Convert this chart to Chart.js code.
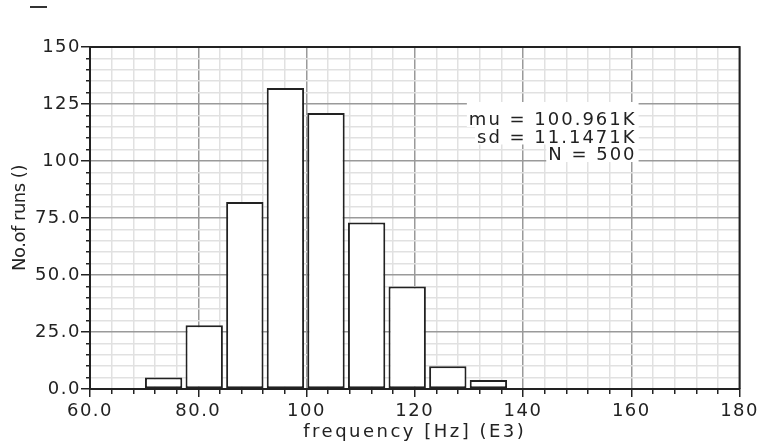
<!DOCTYPE html>
<html lang="en">
<head>
<meta charset="UTF-8">
<title>Frequency histogram</title>
<script src="https://cdn.jsdelivr.net/npm/chart.js"></script>
<style>
  html, body { margin: 0; padding: 0; background: #fff; }
</style>
</head>
<body>
<canvas id="myChart" width="763" height="445"></canvas>

<script>
// bin centres [Hz] (E3) and counts
const binCenters = [73.6, 81.1, 88.6, 96.1, 103.6, 111.1, 118.6, 126.1, 133.6];
const runCounts = [5, 28, 82, 132, 121, 73, 45, 10, 4];

// labelled (major) ticks; the minor ones in between get no text
const xTickValues = [60, 80, 100, 120, 140, 160, 180];
const xTickLabels = ['60.0', '80.0', '100', '120', '140', '160', '180'];
const yTickValues = [0, 25, 50, 75, 100, 125, 150];
const yTickLabels = ['0.0', '25.0', '50.0', '75.0', '100', '125', '150'];

const statLines = ['mu = 100.961K', 'sd = 11.1471K', 'N = 500'];

const INK = '#222';
const MAJOR_GRID = '#9a9a9a';
const MINOR_GRID = '#e1e1e1';
const FONT = '"DejaVu Sans", Verdana, sans-serif';

Chart.defaults.font.family = FONT;
Chart.defaults.font.size = 18;
Chart.defaults.color = INK;

const isMajor = (c, list) => c.tick && list.indexOf(c.tick.value) >= 0;

// the original font is widely spaced; axis titles get their own spacing
function patchTitle(scale, spacing) {
    if (!scale || scale._spacingPatched) return;
    const orig = scale.drawTitle;
    scale.drawTitle = function () {
        const prev = this.ctx.letterSpacing;
        this.ctx.letterSpacing = spacing;
        orig.call(this);
        this.ctx.letterSpacing = prev;
    };
    scale._spacingPatched = true;
}

const textSpacing = {
    id: 'textSpacing',
    beforeLayout(chart) { chart.ctx.letterSpacing = '1.5px'; },
    beforeDraw(chart) {
        chart.ctx.letterSpacing = '1.5px';
        patchTitle(chart.scales.x, '2.5px');
        patchTitle(chart.scales.y, '-0.5px');
    }
};

// top/right frame, the stats box and the little dash in the corner
const frame = {
    id: 'frame',
    afterDatasetsDraw(chart) {
        const { ctx, chartArea: a } = chart;
        ctx.save();
        ctx.strokeStyle = INK;
        ctx.lineWidth = 2;
        ctx.beginPath();
        ctx.moveTo(a.left, a.top);
        ctx.lineTo(a.right, a.top);
        ctx.lineTo(a.right, a.bottom);
        ctx.stroke();

        ctx.font = '18px ' + FONT;
        ctx.letterSpacing = '2px';
        ctx.textAlign = 'right';
        ctx.textBaseline = 'alphabetic';
        const rx = a.right - 105;
        const base = a.top + 78;
        ctx.fillStyle = '#fff';
        statLines.forEach((t, i) => {
            const w = ctx.measureText(t).width;
            ctx.fillRect(rx - w, base + i * 17.5 - 23, w + 4, 25);
        });
        ctx.fillStyle = INK;
        statLines.forEach((t, i) => ctx.fillText(t, rx + 2, base + i * 17.5));

        ctx.fillStyle = '#333';
        ctx.fillRect(30, 6, 17, 2);
        ctx.restore();
    }
};

const ctx = document.getElementById('myChart').getContext('2d');
const myChart = new Chart(ctx, {
    type: 'bar',
    data: {
        datasets: [{
            data: binCenters.map((x, i) => ({ x: x, y: runCounts[i] })),
            backgroundColor: '#fff',
            borderColor: INK,
            borderWidth: 2,
            borderSkipped: false,
            // the ruler is the 4-unit tick step, bars are ~6.9 units wide
            categoryPercentage: 1,
            barPercentage: 1.725
        }]
    },
    options: {
        responsive: false,
        animation: false,
        layout: { padding: { top: 47, right: 23, left: 0, bottom: 0 } },
        plugins: {
            legend: { display: false },
            tooltip: { enabled: false }
        },
        scales: {
            x: {
                type: 'linear',
                min: 60,
                max: 180,
                offset: false,
                afterFit: s => { s.height = 56; },
                ticks: {
                    stepSize: 4,
                    autoSkip: false,
                    maxRotation: 0,
                    padding: 4,
                    callback: v => {
                        const i = xTickValues.indexOf(v);
                        return i < 0 ? '' : xTickLabels[i];
                    }
                },
                grid: {
                    offset: false,
                    lineWidth: 1.5,
                    color: c => isMajor(c, xTickValues) ? MAJOR_GRID : MINOR_GRID,
                    tickLength: 8,
                    tickColor: INK,
                    tickWidth: 1.5,
                    tickBorderDash: c => isMajor(c, xTickValues) ? [] : [4, 4]
                },
                border: { color: INK, width: 2 },
                title: {
                    display: true,
                    text: 'frequency [Hz] (E3)',
                    padding: { top: 0, bottom: 2 }
                }
            },
            y: {
                min: 0,
                max: 150,
                afterFit: s => { s.width = 90; },
                ticks: {
                    stepSize: 5,
                    autoSkip: false,
                    padding: 0,
                    callback: v => {
                        const i = yTickValues.indexOf(v);
                        return i < 0 ? '' : yTickLabels[i];
                    }
                },
                grid: {
                    lineWidth: 1.5,
                    color: c => isMajor(c, yTickValues) ? MAJOR_GRID : MINOR_GRID,
                    tickLength: 9,
                    tickColor: INK,
                    tickWidth: 1.5,
                    tickBorderDash: c => isMajor(c, yTickValues) ? [] : [4, 5],
                    tickBorderDashOffset: c => isMajor(c, yTickValues) ? 0 : 4
                },
                border: { color: INK, width: 2 },
                title: {
                    display: true,
                    text: 'No.of runs ()',
                    padding: { top: 10, bottom: 0 }
                }
            }
        }
    },
    plugins: [textSpacing, frame]
});
</script>
</body>
</html>
